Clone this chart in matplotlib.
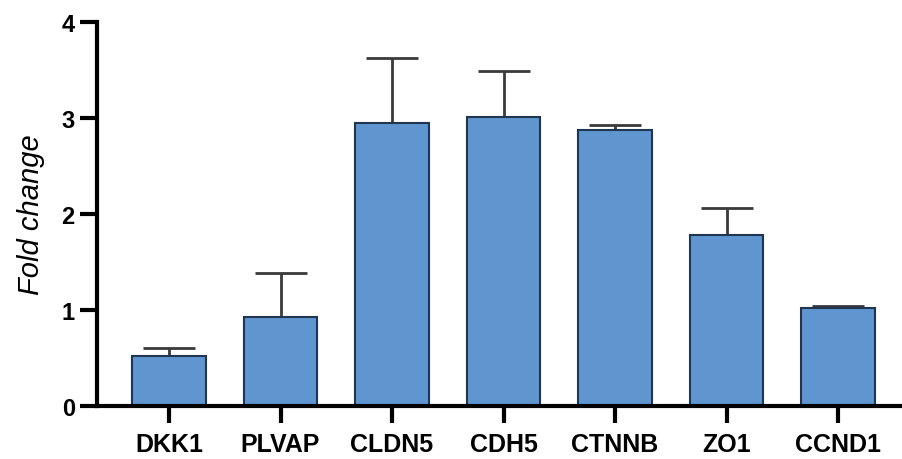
import numpy as np
import matplotlib
matplotlib.use('Agg')
from matplotlib import pyplot as plt

genes = ['DKK1', 'PLVAP', 'CLDN5', 'CDH5', 'CTNNB', 'ZO1', 'CCND1']
fold = [0.52, 0.93, 2.945, 3.01, 2.88, 1.78, 1.02]
err = [0.08, 0.46, 0.685, 0.48, 0.05, 0.28, 0.02]
yticks = [0, 1, 2, 3, 4]

plt.rcParams['font.family'] = ['Liberation Sans', 'DejaVu Sans']

fig = plt.figure(figsize=(9.03, 4.6), dpi=100)
ax = fig.add_axes([97/903, 53/460, 803/903, 384/460])

x = np.arange(len(genes))
ax.bar(x, fold, width=0.66, color='#6096D0', edgecolor='#1F3550', linewidth=1.5, zorder=2)
ax.errorbar(x, fold, yerr=[np.zeros(len(err)), err], fmt='none', ecolor='#3a3a3a',
            elinewidth=2, capsize=19, capthick=2, zorder=1)

ax.set_xlim(-0.646, 6.556)
ax.set_ylim(0, 4)
ax.set_yticks(yticks)
ax.set_xticks(x)
ax.set_xticklabels(genes, fontsize=18, fontweight='bold',
                   family=['Liberation Sans Narrow', 'Liberation Sans'])
ax.set_yticklabels([str(v) for v in yticks], fontsize=17, fontweight='bold')
ax.set_ylabel('Fold change', fontsize=21, style='italic', labelpad=12)

for s in ['top', 'right']:
    ax.spines[s].set_visible(False)
for s in ['left', 'bottom']:
    ax.spines[s].set_linewidth(3)
ax.tick_params(axis='y', width=3, length=12, pad=4)
ax.tick_params(axis='x', width=3, length=12, pad=7)

fig.savefig('out.png', dpi=100)
